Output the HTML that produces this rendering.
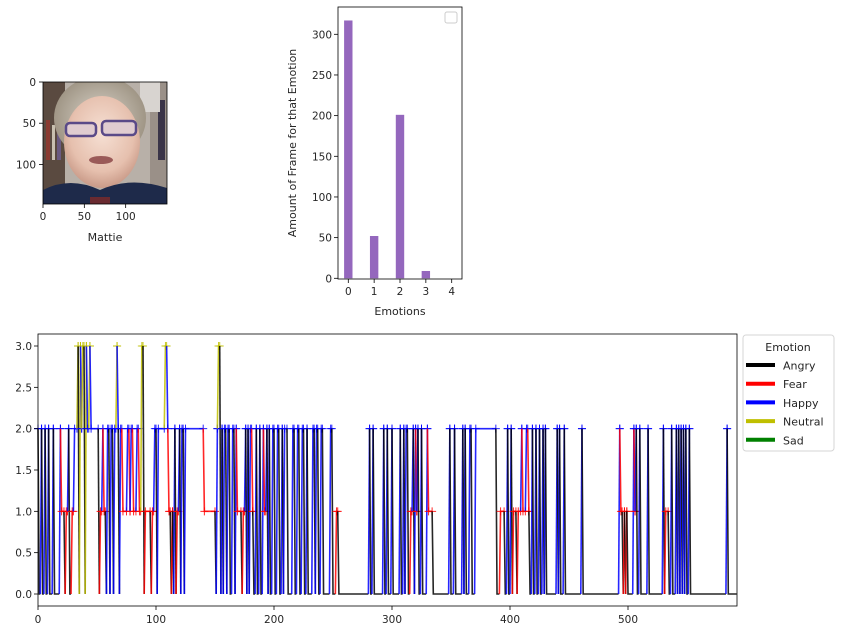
<!DOCTYPE html>
<html><head><meta charset="utf-8"><style>
body{margin:0;background:#fff;}
svg{display:block;font-family:"DejaVu Sans","Liberation Sans",sans-serif;}
</style></head><body>
<svg id="root" width="846" height="637" viewBox="0 0 846 637">
<g>
  <defs>
    <radialGradient id="skin" cx="0.5" cy="0.4" r="0.6"><stop offset="0" stop-color="#f6e0d4"/><stop offset="0.7" stop-color="#e6c0ae"/><stop offset="1" stop-color="#c99a88"/></radialGradient>
    <radialGradient id="hair" cx="0.5" cy="0.5" r="0.5"><stop offset="0" stop-color="#d8d2c8"/><stop offset="1" stop-color="#a09686"/></radialGradient>
    <clipPath id="imgclip"><rect x="43" y="82" width="124" height="122"/></clipPath>
  </defs>
  <g clip-path="url(#imgclip)">
    <rect x="43" y="82" width="124" height="122" fill="#b8b0a8"/>
    <rect x="43" y="82" width="22" height="122" fill="#5a4a40"/>
    <rect x="46" y="120" width="4" height="40" fill="#8a3a30"/><rect x="52" y="125" width="3" height="35" fill="#c8c0b0"/><rect x="57" y="118" width="4" height="42" fill="#6a5a80"/>
    <rect x="150" y="82" width="17" height="122" fill="#9a9088"/>
    <rect x="158" y="100" width="7" height="60" fill="#3a3448"/>
    <rect x="140" y="82" width="20" height="30" fill="#d8d4d0"/>
    <ellipse cx="100" cy="118" rx="46" ry="42" fill="url(#hair)"/>
    <ellipse cx="102" cy="142" rx="38" ry="46" fill="url(#skin)"/>
    <rect x="66" y="123" width="30" height="13" rx="4" fill="#e0ccd0" stroke="#5a4a88" stroke-width="2.5"/>
    <rect x="102" y="121" width="34" height="14" rx="4" fill="#e0ccd0" stroke="#5a4a88" stroke-width="2.5"/>
    <ellipse cx="101" cy="160" rx="12" ry="4" fill="#9a5a58"/>
    <path d="M43 204 L43 190 Q70 176 100 190 Q130 176 167 188 L167 204 Z" fill="#1e2a4a"/>
    <rect x="90" y="197" width="20" height="7" fill="#6a2a30"/>
  </g>
  <rect x="43" y="82" width="124" height="122" fill="none" stroke="#000" stroke-width="0.8"/>
  <g id="faceTicks" font-size="10.5" fill="#262626"></g>
  <text x="105" y="241" font-size="11" text-anchor="middle" fill="#262626">Mattie</text>
</g>
<g id="bars"></g>
<g id="ts"></g>
</svg>
<script>
// ---------- bar chart data ----------
const barCategories = [0, 1, 2, 3, 4];
const barValues = [317, 52, 201, 9, 0];
const barYTicks = [0, 50, 100, 150, 200, 250, 300];

// ---------- timeline data (run-length: start frame & emotion) ----------
const runStart = [0,1,3,4,6,7,9,10,13,14,19,20,23,24,26,27,29,31,34,35,36,37,38,40,41,42,44,45,52,53,55,56,58,59,61,62,64,65,67,68,69,70,72,76,78,79,81,84,86,88,90,91,96,97,99,101,102,108,110,111,113,114,115,116,117,118,120,121,122,124,125,141,151,152,153,155,156,157,158,160,161,163,165,167,168,169,173,174,176,177,178,179,180,182,183,185,186,188,189,191,192,194,195,196,197,199,201,203,205,207,208,209,212,216,218,220,222,224,226,228,229,233,235,236,238,240,242,248,250,253,255,281,282,284,285,293,294,296,297,300,301,307,308,310,311,312,314,316,318,319,320,321,322,323,325,326,330,331,335,349,350,353,354,360,361,362,363,366,368,371,389,392,396,398,399,401,402,403,406,407,410,411,414,416,417,419,420,422,423,425,426,428,429,430,431,440,441,442,443,446,447,461,462,493,494,496,497,498,499,500,505,506,507,508,510,511,517,518,530,531,532,535,537,538,541,542,543,544,545,546,547,548,549,550,552,553,584,585];
const runValue = [2,0,2,0,2,0,2,0,2,0,2,1,0,1,2,0,1,2,3,0,3,2,3,0,3,2,3,2,0,1,2,1,0,2,0,2,0,2,3,2,0,2,1,2,1,2,1,2,1,3,0,1,0,1,2,0,2,3,2,1,0,1,0,2,0,1,2,0,2,0,2,1,0,2,3,0,2,0,2,0,2,0,2,0,2,1,0,1,2,0,2,0,2,1,0,2,0,2,0,2,1,2,0,2,0,2,0,2,0,2,0,2,0,2,0,2,0,2,0,2,0,2,0,2,0,2,0,2,0,1,0,2,0,2,0,2,0,2,0,2,0,2,0,2,0,2,0,1,2,0,2,1,2,0,2,0,2,1,0,2,0,2,0,2,0,2,0,2,0,2,0,1,0,2,0,2,0,1,0,1,2,1,2,1,0,2,0,2,0,2,0,2,0,2,0,2,0,2,0,2,0,2,0,2,1,0,1,0,1,0,2,1,2,0,2,0,2,0,2,0,1,0,2,0,2,0,2,0,2,0,2,0,2,0,2,0,2,0];
const lastFrame = 592;
const tsXTicks = [0, 100, 200, 300, 400, 500];
const tsYTicks = [0.0, 0.5, 1.0, 1.5, 2.0, 2.5, 3.0];
const emotionNames = ["Angry", "Fear", "Happy", "Neutral", "Sad"];
const emotionColors = ["#000000", "#ff0000", "#0000ff", "#bfbf00", "#008000"];

const NS = "http://www.w3.org/2000/svg";
function mk(tag, attrs, parent, txt){
  const e = document.createElementNS(NS, tag);
  for (const k in attrs) e.setAttribute(k, attrs[k]);
  if (txt !== undefined) e.textContent = txt;
  parent.appendChild(e);
  return e;
}

// ---------- face ticks ----------
(function(){
  const g = document.getElementById('faceTicks');
  const fx = v => 43 + v * 124 / 150;
  const fy = v => 82 + v * 122 / 148;
  [0, 50, 100].forEach(v => {
    mk('line', {x1: fx(v), x2: fx(v), y1: 204, y2: 208, stroke: '#000', 'stroke-width': 0.8}, g);
    const t = mk('text', {x: fx(v), y: 220, 'text-anchor': 'middle'}, g, String(v));
    
    
    mk('line', {x1: 39, x2: 43, y1: fy(v), y2: fy(v), stroke: '#000', 'stroke-width': 0.8}, g);
    const t2 = mk('text', {x: 36, y: fy(v) + 4, 'text-anchor': 'end'}, g, String(v));
    
    
  });
})();

// ---------- bar chart ----------
(function(){
  const g = document.getElementById('bars');
  const L = 338, R = 462, T = 7, B = 279;
  const x = c => 348.3 + c * 25.85;
  const y = v => 278.3 - v * (244 / 300);
  barCategories.forEach((c, i) => {
    const r = mk('rect', {x: x(c) - 4.2, y: y(barValues[i]), width: 8.4, height: 278.3 - y(barValues[i]), fill: '#9467bd'}, g);
    
    
  });
  const f = mk('rect', {x: L, y: T, width: R - L, height: B - T, fill: 'none', stroke: '#000', 'stroke-width': 0.8}, g);
  
  
  barCategories.forEach(c => {
    mk('line', {x1: x(c), x2: x(c), y1: B, y2: B + 4, stroke: '#000', 'stroke-width': 0.8}, g);
    const t = mk('text', {x: x(c), y: B + 16, 'text-anchor': 'middle', 'font-size': 10.5, fill: '#262626'}, g, String(c));
    
    
  });
  barYTicks.forEach(v => {
    mk('line', {x1: L - 4, x2: L, y1: y(v), y2: y(v), stroke: '#000', 'stroke-width': 0.8}, g);
    const t = mk('text', {x: L - 6, y: y(v) + 4, 'text-anchor': 'end', 'font-size': 10.5, fill: '#262626'}, g, String(v));
    
    
  });
  const xl = mk('text', {x: 400, y: 315, 'text-anchor': 'middle', 'font-size': 11, fill: '#262626'}, g, 'Emotions');
  
  
  const yl = mk('text', {x: 0, y: 0, 'text-anchor': 'middle', 'font-size': 11, fill: '#262626', transform: 'translate(296,143) rotate(-90)'}, g, 'Amount of Frame for that Emotion');
  
  
  const lg = mk('rect', {x: 445, y: 12, width: 12, height: 11, rx: 2, fill: '#fff', stroke: '#ccc', 'stroke-width': 1}, g);
  
  
})();

// ---------- timeline ----------
(function(){
  const g = document.getElementById('ts');
  const L = 38, R = 737, T = 334, B = 606;
  const x = f => L + f * 1.18;
  const y = v => 594 - v * (248 / 3);
  const lines = mk('g', {'stroke-width': 1.6, fill: 'none', 'stroke-opacity': 0.85}, g);
  
  
  for (let i = 0; i < runStart.length; i++) {
    const s = runStart[i];
    const e = (i + 1 < runStart.length ? runStart[i + 1] : lastFrame + 1) - 1;
    const v = runValue[i];
    const c = emotionColors[v];
    let d = '';
    if (i > 0) d += 'M' + x(s - 1) + ' ' + y(runValue[i - 1]) + ' L' + x(s) + ' ' + y(v);
    else d += 'M' + x(s) + ' ' + y(v);
    if (e > s) d += ' L' + x(e) + ' ' + y(v);
    const p = mk('path', {d: d, stroke: c}, lines);
    
    
    if (v > 0) {
      [s, e].forEach(fr => {
        const m = mk('path', {d: 'M' + (x(fr) - 4) + ' ' + y(v) + ' h8 M' + x(fr) + ' ' + (y(v) - 4) + ' v8', stroke: c, 'stroke-width': 1}, lines);
        
        
      });
    }
  }
  const f = mk('rect', {x: L, y: T, width: R - L, height: B - T, fill: 'none', stroke: '#000', 'stroke-width': 0.8}, g);
  
  
  tsXTicks.forEach(v => {
    mk('line', {x1: x(v), x2: x(v), y1: B, y2: B + 4, stroke: '#000', 'stroke-width': 0.8}, g);
    const t = mk('text', {x: x(v), y: B + 17, 'text-anchor': 'middle', 'font-size': 10.5, fill: '#262626'}, g, String(v));
    
    
  });
  tsYTicks.forEach(v => {
    mk('line', {x1: L - 4, x2: L, y1: y(v), y2: y(v), stroke: '#000', 'stroke-width': 0.8}, g);
    const t = mk('text', {x: L - 6, y: y(v) + 4, 'text-anchor': 'end', 'font-size': 10.5, fill: '#262626'}, g, v.toFixed(1));
    
    
  });
  // legend
  const lg = mk('g', {}, g);
  
  
  mk('rect', {x: 743, y: 335, width: 91, height: 116, rx: 3, fill: '#fff', stroke: '#d6d6d6', 'stroke-width': 1}, lg);
  const tt = mk('text', {x: 788, y: 351, 'text-anchor': 'middle', 'font-size': 11, fill: '#262626'}, lg, 'Emotion');
  
  
  emotionNames.forEach((n, i) => {
    const yy = 365 + i * 18.7;
    const ln = mk('line', {x1: 746, x2: 775, y1: yy, y2: yy, stroke: emotionColors[i], 'stroke-width': 4}, lg);
    
    
    const t = mk('text', {x: 783, y: yy + 4.5, 'font-size': 11, fill: '#262626'}, lg, n);
    
    
  });
})();
</script>
</body></html>
